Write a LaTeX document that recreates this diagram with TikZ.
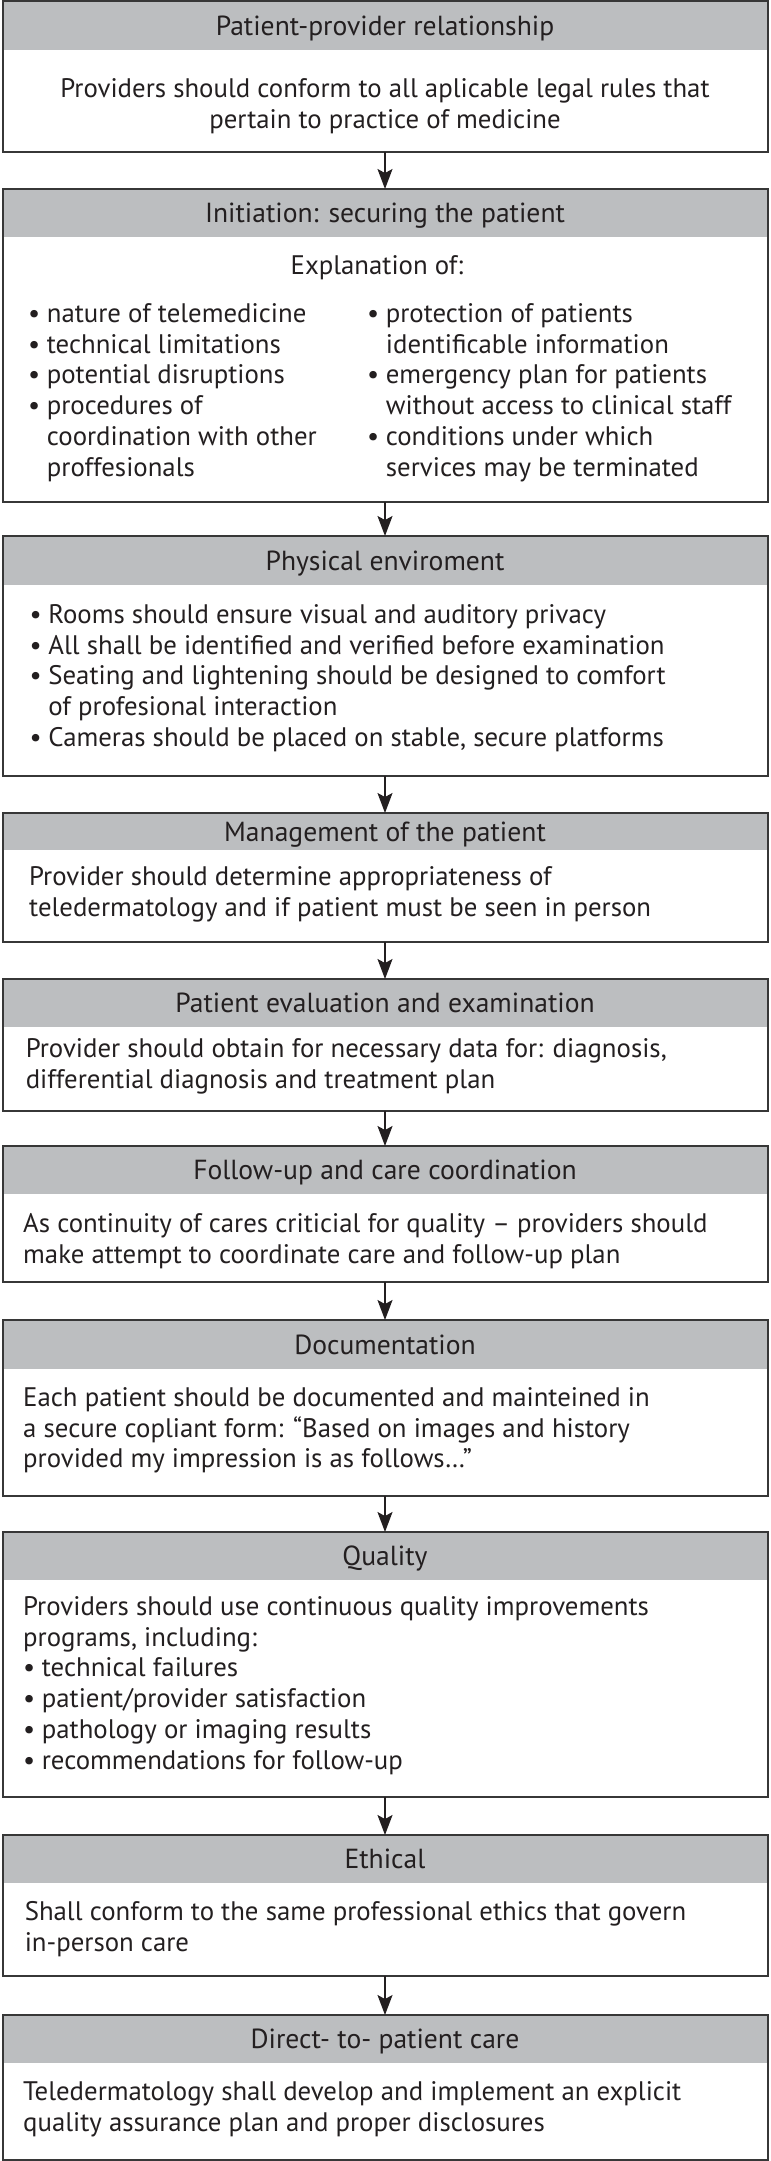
\documentclass[tikz,border=0pt]{standalone}
\usepackage{fontspec}
\setmainfont{PT Sans}
\usetikzlibrary{arrows.meta}
\definecolor{hdrgray}{RGB}{188,190,192}
\definecolor{edge}{RGB}{55,55,55}
\definecolor{ink}{RGB}{35,31,32}
\newcommand{\itm}{\makebox[18.7pt][l]{\textbullet}}
\newcommand{\hng}{\hspace*{18.7pt}}
\newcommand{\tl}{\rule{0pt}{19.5pt}}

\begin{document}
\begin{tikzpicture}[x=1pt, y=-1pt,
  every node/.style={font=\fontsize{26.8}{30.8}\selectfont, text=ink},
  hdr/.style={fill=hdrgray, minimum width=765pt, inner sep=0pt, font=\fontsize{27.6}{30.8}\selectfont, text height=19.3pt, text depth=0pt, anchor=north},
  frm/.style={draw=edge, line width=2pt, minimum width=765pt, inner sep=0pt, outer sep=0pt, anchor=north},
  txt/.style={inner sep=0pt, align=left, anchor=north west},
  arr/.style={draw=ink, line width=1.5pt, -{Stealth[length=20pt, width=15pt, inset=4pt]}}]
\useasboundingbox (0,0) rectangle (771,2161);

% header bands and frames
\foreach \n/\ytop/\hh/\fh/\lbl in {
  1/1/49pt/151pt/Patient-provider relationship,
  2/189/48pt/313pt/Initiation: securing the patient,
  3/536/49pt/240pt/Physical enviroment,
  4/813/37pt/129pt/Management of the patient,
  5/979/48pt/132pt/Patient evaluation and examination,
  6/1146/48pt/136pt/Follow-up and care coordination,
  7/1320/49pt/176pt/Documentation,
  8/1532/48pt/265pt/Quality,
  9/1835/48pt/141pt/Ethical,
  10/2015/48pt/145pt/Direct- to- patient care}
{
  \node[hdr, minimum height=\hh] (hd\n) at (385,\ytop) {\lbl};
  \node[frm, minimum height=\fh] (fr\n) at (385,\ytop) {};
}

\node[txt, anchor=north, align=center] (tx1) at (385,77.5) {\tl Providers should conform to all aplicable legal rules that\\pertain to practice of medicine};

\node[txt, anchor=north] (tx2) at (377,254.5) {\tl Explanation of:};
\node[txt] (tx2a) at (28,302.5) {\tl\itm nature of telemedicine\\\itm technical limitations\\\itm potential disruptions\\\itm procedures of\\\hng coordination with other\\\hng proffesionals};
\node[txt] (tx2b) at (367,302.5) {\tl\itm protection of patients\\\hng identificable information\\\itm emergency plan for patients\\\hng without access to clinical staff\\\itm conditions under which\\\hng services may be terminated};

\node[txt] (tx3) at (29.5,603.5) {\tl\itm Rooms should ensure visual and auditory privacy\\\itm All shall be identified and verified before examination\\\itm Seating and lightening should be designed to comfort\\\hng of profesional interaction\\\itm Cameras should be placed on stable, secure platforms};

\node[txt] (tx4) at (29,865.5) {\tl Provider should determine appropriateness of\\teledermatology and if patient must be seen in person};
\node[txt] (tx5) at (25.6,1037.5) {\tl Provider should obtain for necessary data for: diagnosis,\\differential diagnosis and treatment plan};
\node[txt] (tx6) at (23,1212.5) {\tl As continuity of cares criticial for quality – providers should\\make attempt to coordinate care and follow-up plan};
\node[txt] (tx7) at (23,1386.5) {\tl Each patient should be documented and mainteined in\\a secure copliant form: “Based on images and history\\provided my impression is as follows…”};
\node[txt] (tx8) at (23,1595.5) {\tl Providers should use continuous quality improvements\\programs, including:\\\itm technical failures\\\itm patient/provider satisfaction\\\itm pathology or imaging results\\\itm recommendations for follow-up};
\node[txt] (tx9) at (24.6,1900.5) {\tl Shall conform to the same professional ethics that govern\\in-person care};
\node[txt] (tx10) at (23,2080.5) {\tl Teledermatology shall develop and implement an explicit\\quality assurance plan and proper disclosures};

% connectors
\foreach \a/\b in {1/2,2/3,3/4,4/5,5/6,6/7,7/8,8/9,9/10}
  \draw[arr] (fr\a) -- (fr\b);
\end{tikzpicture}
\end{document}
